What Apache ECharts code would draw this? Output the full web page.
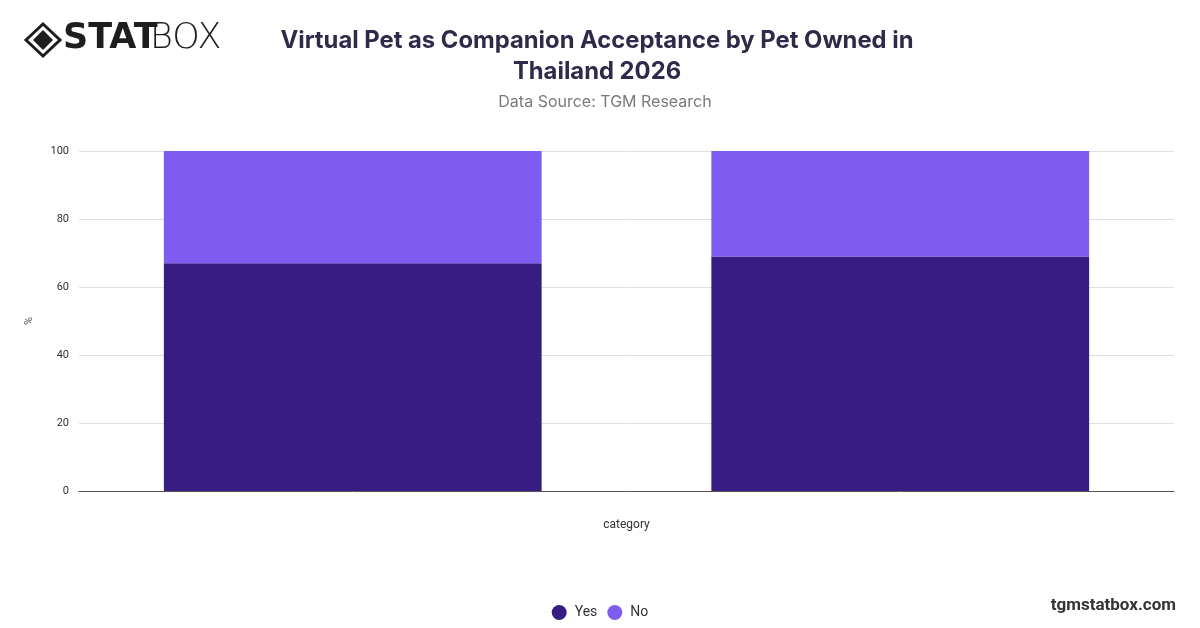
<!DOCTYPE html>
<html>
<head>
<meta charset="utf-8">
<script src="https://cdn.jsdelivr.net/npm/echarts@6/dist/echarts.min.js"></script>
<style>
html,body{margin:0;padding:0;background:#fff;}
#chart{width:1200px;height:628px;}
</style>
</head>
<body>
<div id="chart"></div>
<script>
const categories = ["Pet Owner", "Non-Pet Owner"];
const yesValues = [67, 69];
const noValues = [33, 31];
const yTicks = [0, 20, 40, 60, 80, 100];

const chart = echarts.init(document.getElementById('chart'), null, {renderer: 'canvas'});
chart.setOption({
  backgroundColor: '#ffffff',
  animation: false,
  title: [{
    text: 'Virtual Pet as Companion Acceptance by Pet Owned in\nThailand 2026',
    left: 592, top: 20, textAlign: 'center',
    textStyle: {fontFamily: 'Inter', fontWeight: 'bold', fontSize: 23.8, color: '#2e2b4a', lineHeight: 31}
  }, {
    text: 'Data Source: TGM Research',
    left: 600, top: 89, textAlign: 'center',
    textStyle: {fontFamily: 'Inter', fontWeight: 'normal', fontSize: 16, color: '#7a7a7a'}
  }],
  graphic: [
    {type: 'polygon', shape: {points: [[43,24],[60,40],[43,56],[26,40]]}, style: {fill: 'none', stroke: '#1e1e1e', lineWidth: 3}},
    {type: 'polygon', shape: {points: [[43,30],[53,40],[43,50],[33,40]]}, style: {fill: '#1e1e1e'}},
    {type: 'text', left: 63, top: 21, style: {text: 'STAT', font: '900 35px "DejaVu Sans"', fill: '#1e1e1e'}},
    {type: 'text', left: 150, top: 21, style: {text: 'BOX', font: '200 35px "DejaVu Sans"', fill: '#1e1e1e'}},
    {type: 'text', right: 24, top: 597, style: {text: 'tgmstatbox.com', font: 'bold 17px Roboto', fill: '#333333'}}
  ],
  legend: {
    bottom: 3, left: 'center', icon: 'circle', itemWidth: 15, itemHeight: 15, itemGap: 10,
    textStyle: {fontFamily: 'Roboto', fontSize: 14, color: '#333', padding: [0, 0, 0, 3]},
    data: ['Yes', 'No']
  },
  grid: {left: 79, right: 26, top: 151, bottom: 137, containLabel: false},
  xAxis: {
    type: 'category', data: categories,
    name: 'category', nameLocation: 'middle', nameGap: 28,
    nameTextStyle: {fontFamily: 'Roboto', fontSize: 12, color: '#333'},
    axisLabel: {show: false}, axisTick: {show: false},
    axisLine: {lineStyle: {color: '#555', width: 1}}
  },
  yAxis: {
    type: 'value', min: 0, max: 100, interval: 20,
    name: '%', nameLocation: 'middle', nameGap: 44, nameRotate: 90,
    nameTextStyle: {fontFamily: 'Roboto', fontSize: 11, color: '#555'},
    axisLabel: {fontFamily: 'Roboto', fontSize: 11, color: '#333', margin: 10,
      formatter: v => yTicks.includes(v) ? String(v) : ''},
    axisLine: {show: false}, axisTick: {show: false},
    splitLine: {lineStyle: {color: '#e0e0e0'}}
  },
  series: [
    {name: 'Yes', type: 'bar', stack: 'total', data: yesValues, barWidth: '69%', itemStyle: {color: '#371c83'}},
    {name: 'No', type: 'bar', stack: 'total', data: noValues, barWidth: '69%', itemStyle: {color: '#7d5cef'}}
  ]
});
</script>
</body>
</html>
